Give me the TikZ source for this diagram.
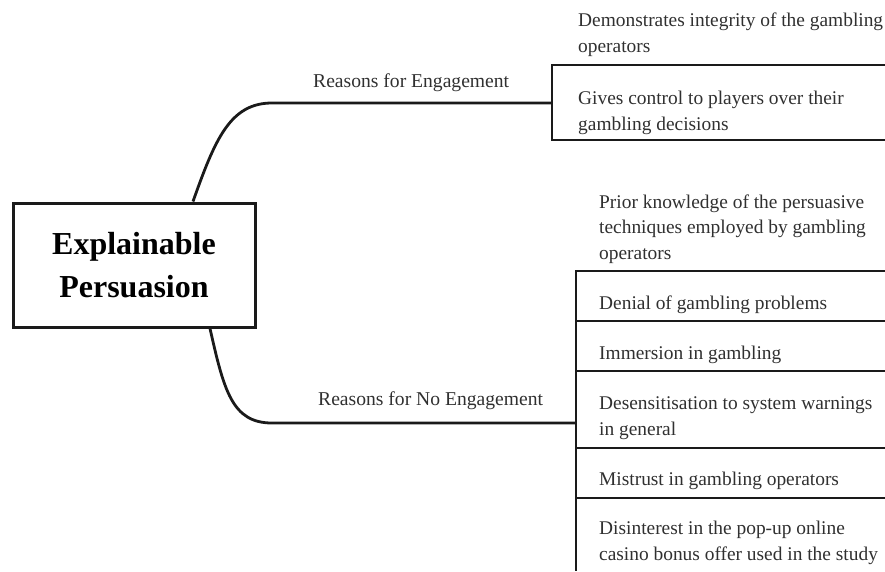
\documentclass[tikz,border=0pt]{standalone}
\usepackage{fontspec}
\setmainfont{Liberation Serif}
\definecolor{ink}{HTML}{1A1A1A}
\definecolor{txt}{HTML}{303030}
\begin{document}
\begin{tikzpicture}[x=1pt,y=-1pt,
  rootbox/.style={draw=ink,line width=3pt,fill=white,minimum width=242pt,minimum height=124pt,
    align=center,font=\fontsize{32}{43.5}\selectfont\bfseries,text=black,inner sep=0pt},
  branch/.style={draw=ink,line width=2.8pt},
  bracket/.style={draw=ink,line width=2pt},
  item/.style={anchor=base west,align=left,inner sep=0pt,text=txt,
    font=\fontsize{19.4}{25.5}\selectfont},
  blabel/.style={anchor=base west,inner sep=0pt,text=txt,font=\fontsize{19.6}{25.5}\selectfont}]
\useasboundingbox (0,0) rectangle (885,571);

% root
\node[rootbox] (root) at (134,265) {Explainable\\Persuasion};

% branch labels
\node[blabel] (eng) at (313,87) {Reasons for Engagement};
\node[blabel] (noeng) at (318,405) {Reasons for No Engagement};

% junctions
\coordinate (engJ) at (552,103);
\coordinate (noengJ) at (576,423);

% branches
\draw[branch] ([xshift=59pt]root.north) .. controls +(22,-62) and +(-42,0) .. (272,103) -- (engJ);
\draw[branch] ([xshift=76pt]root.south) .. controls +(14,62) and +(-40,0) .. (272,423) -- (noengJ);

% top bracket
\coordinate (t1) at (552,65);
\coordinate (t2) at (552,140);
\draw[bracket] (885,65) -- (t1) -- (t2) -- (885,140);
\node[item] (e1) at (578,52) {Demonstrates integrity of the gambling\\operators};
\node[item] (e2) at (578,130) {Gives control to players over their\\gambling decisions};

% bottom bracket
\coordinate (b1) at (576,270.5);
\coordinate (b6) at (576,571);
\draw[bracket] (885,270.5) -- (b1) -- (b6);
\foreach \yy in {321,371,448,498} \draw[bracket] (576,\yy) -- (885,\yy);

\node[item] (n1) at (599,259) {Prior knowledge of the persuasive\\techniques employed by gambling\\operators};
\node[item] (n2) at (599,309) {Denial of gambling problems};
\node[item] (n3) at (599,359) {Immersion in gambling};
\node[item] (n4) at (599,435) {Desensitisation to system warnings\\in general};
\node[item] (n5) at (599,485) {Mistrust in gambling operators};
\node[item] (n6) at (599,560) {Disinterest in the pop-up online\\casino bonus offer used in the study};
\end{tikzpicture}
\end{document}
